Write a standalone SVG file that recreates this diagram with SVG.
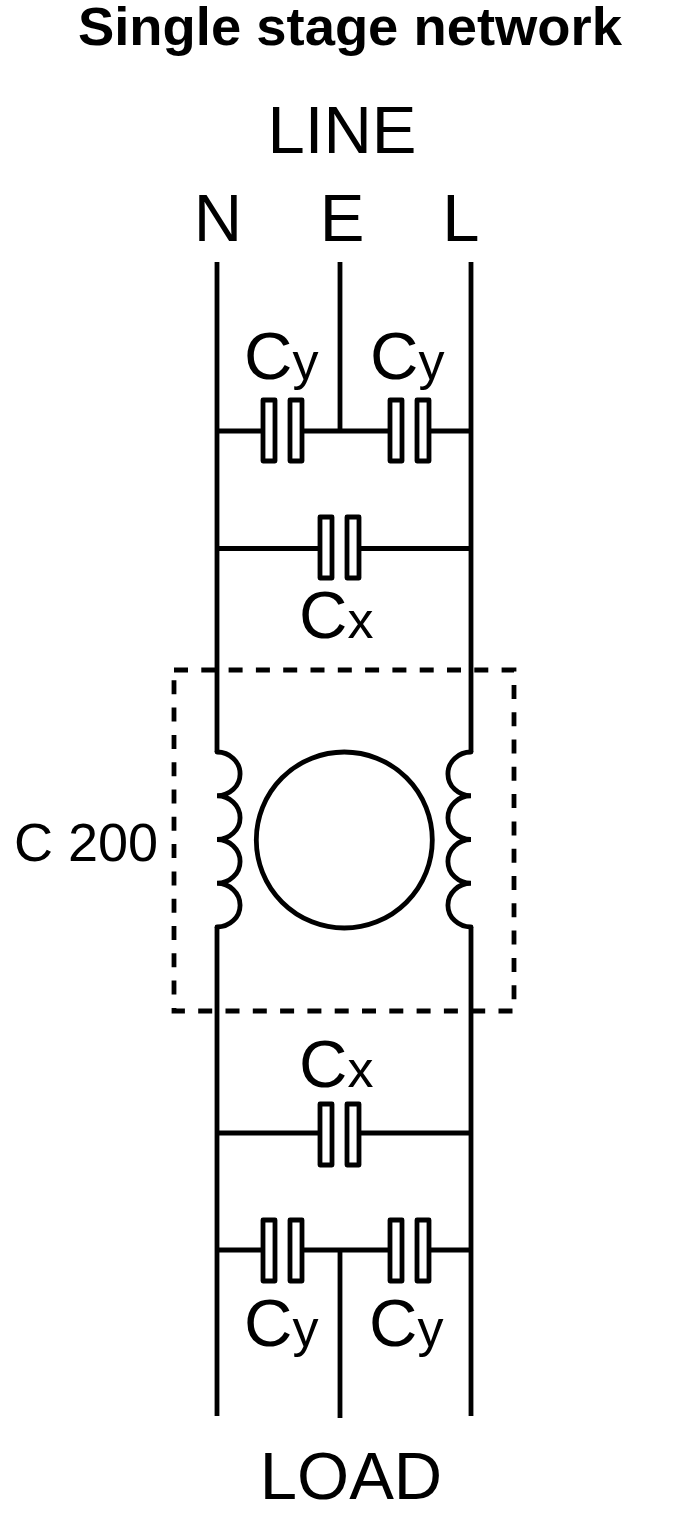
<svg xmlns="http://www.w3.org/2000/svg" width="700" height="1526" viewBox="0 0 700 1526">
<style>
.t{font-family:"Liberation Sans",Arial,sans-serif;fill:#000}
.l{font-size:67px}
.c{font-size:67px}
.c tspan{font-size:52px}
.w{fill:none;stroke:#000;stroke-width:4.8}
.p{fill:#fff;stroke:#000;stroke-width:4.8;stroke-linejoin:round}
.d{fill:none;stroke:#000;stroke-width:4.8;stroke-dasharray:14 13.3}
</style>
<defs>
<g id="cap"><rect class="p" x="-27" y="-31" width="12" height="61"/><rect class="p" x="0" y="-31" width="12" height="61"/></g>
</defs>
<rect width="700" height="1526" fill="#fff"/>
<text id="title" class="t" x="350" y="45" text-anchor="middle" font-size="54.400" font-weight="bold">Single stage network</text>
<g id="connectors">
<path id="box" class="d" d="M174 670H514V1011H174Z"/>
<path class="w" d="M217 262V752M217 927V1416M471 262V752M471 927V1416M340 262V431M340 1250V1418"/>
<path class="w" d="M217 431H263M302 431H390M429 431H471M217 548.500H320M359 548.500H471M217 1133H320M359 1133H471M217 1250H263M302 1250H390M429 1250H471"/>
<path class="w" stroke-linecap="round" d="M217 752A23 21.800 0 0 1 217 795.750A23 21.800 0 0 1 217 839.500A23 21.800 0 0 1 217 883.250A23 21.800 0 0 1 217 927"/>
<path class="w" stroke-linecap="round" d="M471 752A23 21.800 0 0 0 471 795.750A23 21.800 0 0 0 471 839.500A23 21.800 0 0 0 471 883.250A23 21.800 0 0 0 471 927"/>
</g>
<g id="line-labels">
<text class="t l" x="342" y="152.500" text-anchor="middle">LINE</text>
<text class="t l" x="218" y="241" text-anchor="middle">N</text>
<text class="t l" x="342" y="241" text-anchor="middle">E</text>
<text class="t l" x="461" y="241" text-anchor="middle">L</text>
</g>
<g id="cy1"><use href="#cap" x="290" y="431"/><text class="t c" x="244" y="379">C<tspan>y</tspan></text></g>
<g id="cy2"><use href="#cap" x="417" y="431"/><text class="t c" x="370" y="379">C<tspan>y</tspan></text></g>
<g id="cx1"><use href="#cap" x="347" y="548"/><text class="t c" x="299" y="638">C<tspan>x</tspan></text></g>
<g id="c200">
<circle class="w" cx="344.300" cy="840" r="88"/>
<text class="t" x="14" y="861" font-size="54">C 200</text>
</g>
<g id="cx2"><use href="#cap" x="347" y="1135"/><text class="t c" x="299" y="1087">C<tspan>x</tspan></text></g>
<g id="cy3"><use href="#cap" x="290" y="1251"/><text class="t c" x="244" y="1346">C<tspan>y</tspan></text></g>
<g id="cy4"><use href="#cap" x="417" y="1251"/><text class="t c" x="369" y="1346">C<tspan>y</tspan></text></g>
<text id="load" class="t l" x="351" y="1499" text-anchor="middle">LOAD</text>
</svg>
